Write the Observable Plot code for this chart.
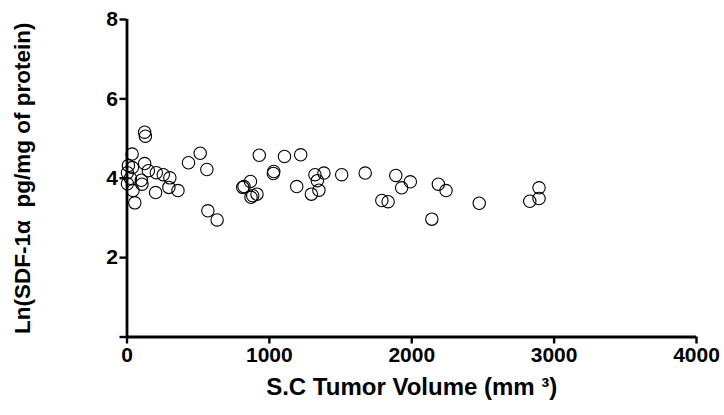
<!DOCTYPE html>
<html>
<head>
<meta charset="utf-8">
<script src="https://cdn.jsdelivr.net/npm/d3@7"></script>
<script src="https://cdn.jsdelivr.net/npm/@observablehq/plot@0.6"></script>
<style>
  html, body { margin: 0; padding: 0; background: #fff; }
  svg { font-family: "Liberation Sans", Arial, sans-serif; }
</style>
</head>
<body>
<div id="chart"></div>
<script>
// Tumor volume (mm^3)
const volume = [
  124, 129, 36, 124, 38, 150, 206, 255, 301, 101, 24, 105, 294, 358, 201, 42, 55, 3, 3, 10,
  432, 514, 561, 568, 633, 813, 822, 867, 871, 883, 913, 929, 1031, 1028, 1106, 1220, 1192,
  1320, 1383, 1337, 1348, 1295, 1508, 1673, 1888, 1990, 1929, 1790, 1834, 2187, 2241, 2141,
  2474, 2829, 2894, 2894
];
// Ln(SDF-1a pg/mg of protein)
const lnSDF = [
  5.16, 5.06, 4.61, 4.37, 4.27, 4.19, 4.14, 4.09, 4.01, 3.95, 4.00, 3.85, 3.77, 3.69, 3.64, 3.69, 3.38, 4.14, 3.86, 4.32,
  4.39, 4.63, 4.22, 3.18, 2.95, 3.77, 3.79, 3.92, 3.52, 3.56, 3.60, 4.58, 4.17, 4.12, 4.55, 4.59, 3.79,
  4.09, 4.13, 3.94, 3.70, 3.60, 4.09, 4.13, 4.07, 3.91, 3.76, 3.44, 3.41, 3.85, 3.69, 2.97,
  3.37, 3.42, 3.76, 3.49
];
const xTicks = [0, 1000, 2000, 3000, 4000];
const yTicks = [0, 2, 4, 6, 8];
const xLabel = "S.C Tumor Volume (mm \u00B3)";
const yLabel = "Ln(SDF-1\u03B1  pg/mg of protein)";

const data = volume.map((v, i) => ({x: v, y: lnSDF[i]}));

const chart = Plot.plot({
  width: 724,
  height: 415,
  marginLeft: 126.5,
  marginRight: 28,
  marginTop: 19,
  marginBottom: 78.5,
  style: {fontFamily: "'Liberation Sans', Arial, sans-serif", background: "#fff", color: "#000"},
  x: {domain: [0, 4000]},
  y: {domain: [0, 8]},
  marks: [
    Plot.axisX({ticks: xTicks, tickSize: 7, strokeWidth: 2.4, tickPadding: 3,
      fontSize: 21, fontWeight: "bold", label: null, tickFormat: d => String(d)}),
    Plot.axisY({ticks: yTicks, tickSize: 7, strokeWidth: 2.4, tickPadding: 2,
      fontSize: 21, fontWeight: "bold", label: null, tickFormat: d => d === 0 ? "" : String(d)}),
    Plot.ruleY([0], {stroke: "#000", strokeWidth: 2.8}),
    Plot.ruleX([0], {stroke: "#000", strokeWidth: 2.8}),
    Plot.dot(data, {x: "x", y: "y", r: 6.2, stroke: "#000", strokeWidth: 1.1, fill: "none"}),
    Plot.text([xLabel], {frameAnchor: "bottom", dy: 58, fontSize: 24, fontWeight: "bold", fill: "#000"}),
    Plot.text([yLabel], {frameAnchor: "left", textAnchor: "middle", rotate: -90, dx: -104, fontSize: 22.5, fontWeight: "bold", fill: "#000"})
  ]
});
document.getElementById("chart").appendChild(chart);
</script>
</body>
</html>
